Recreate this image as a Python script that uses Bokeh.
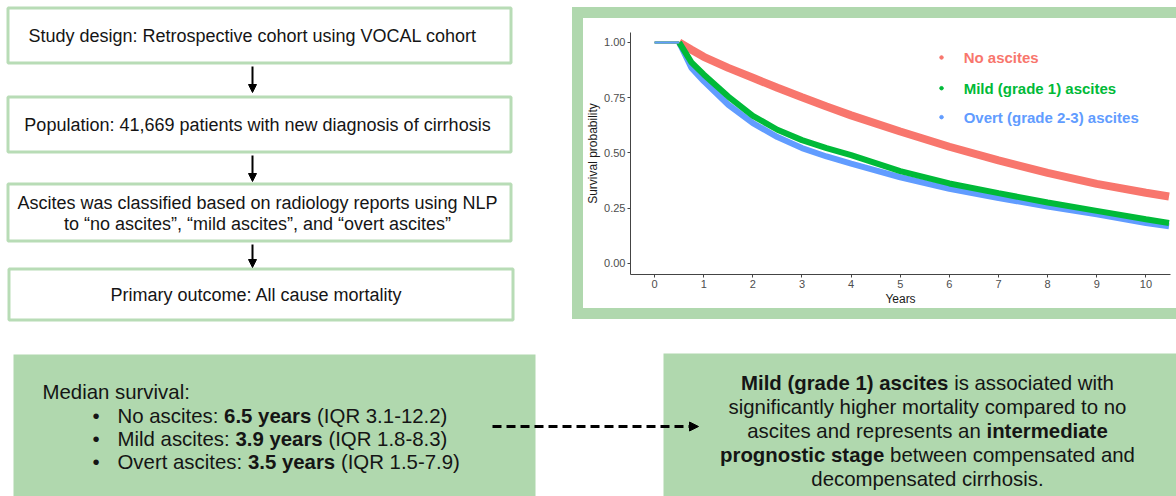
from bokeh.plotting import figure
from bokeh.models import Range1d, Arrow, NormalHead, FixedTicker, Spacer
from bokeh.layouts import row, column
from bokeh.embed import file_html
from bokeh.resources import INLINE
from bokeh.core.properties import value

# ---------------- data ----------------
years = [0, 0.5, 0.75, 1, 1.5, 2, 2.5, 3, 3.5, 4, 5, 6, 7, 8, 9, 10, 10.47]
surv_none = [1, 1, 0.967, 0.935, 0.885, 0.84, 0.795, 0.752, 0.71, 0.67, 0.597, 0.528, 0.466, 0.41, 0.36, 0.32, 0.303]
surv_mild = [1, 1, 0.91, 0.855, 0.755, 0.668, 0.605, 0.558, 0.522, 0.49, 0.418, 0.362, 0.318, 0.276, 0.238, 0.2, 0.183]
surv_overt = [1, 1, 0.885, 0.825, 0.718, 0.635, 0.572, 0.522, 0.484, 0.452, 0.39, 0.338, 0.296, 0.258, 0.222, 0.183, 0.168]
series_names = ["No ascites", "Mild (grade 1) ascites", "Overt (grade 2-3) ascites"]
series_colors = ["#F8766D", "#00BA38", "#619CFF"]
x_ticks = list(range(11))
y_ticks = [0, 0.25, 0.5, 0.75, 1.0]
y_tick_labels = ["0.00", "0.25", "0.50", "0.75", "1.00"]

flow_steps = [
    ["Study design: Retrospective cohort using VOCAL cohort"],
    ["Population: 41,669 patients with new diagnosis of cirrhosis"],
    ["Ascites was classified based on radiology reports using NLP",
     "to \u201cno ascites\u201d, \u201cmild ascites\u201d, and \u201covert ascites\u201d"],
    ["Primary outcome: All cause mortality"],
]

median_title = "Median survival:"
median_groups = ["No ascites", "Mild ascites", "Overt ascites"]
median_years = ["6.5", "3.9", "3.5"]
median_iqr = ["3.1-12.2", "1.8-8.3", "1.5-7.9"]

conclusion_lines = [
    [("Mild (grade 1) ascites", True), (" is associated with", False)],
    [("significantly higher mortality compared to no", False)],
    [("ascites and represents an ", False), ("intermediate", True)],
    [("prognostic stage", True), (" between compensated and", False)],
    [("decompensated cirrhosis.", False)],
]

# ---------------- styling helpers ----------------
FONT = "Liberation Sans"
GREEN = "#b0d8ae"
BOX_LINE = "#b8dcb6"
TXT = "#151515"
BIG = 20.4

REG = dict(zip("abcdefghijklmnopqrstuvwxyz",
               [556, 556, 500, 556, 556, 278, 556, 556, 222, 222, 500, 222, 833, 556, 556, 556, 556, 333, 500, 278, 556, 500, 722, 500, 500, 500]))
BLD = dict(zip("abcdefghijklmnopqrstuvwxyz",
               [556, 611, 556, 611, 556, 333, 611, 611, 278, 278, 556, 278, 889, 611, 611, 611, 611, 389, 556, 333, 611, 556, 778, 556, 556, 500]))
UPR = dict(zip("ABCDEFGHIJKLMNOPQRSTUVWXYZ",
               [667, 667, 722, 722, 667, 611, 778, 722, 278, 500, 667, 556, 833, 722, 778, 667, 778, 722, 667, 611, 722, 667, 944, 667, 667, 611]))
UPB = dict(zip("ABCDEFGHIJKLMNOPQRSTUVWXYZ",
               [722, 722, 722, 722, 667, 611, 778, 722, 278, 556, 722, 611, 833, 722, 778, 667, 778, 722, 667, 611, 722, 667, 944, 667, 667, 611]))
PUN_R = {" ": 278, "(": 333, ")": 333, "-": 333, ".": 278, ",": 278, ":": 278}
PUN_B = {" ": 278, "(": 333, ")": 333, "-": 333, ".": 278, ",": 278, ":": 333}


def text_width(s, bold, size):
    w = 0
    for ch in s:
        if ch.isdigit():
            w += 556
        elif ch in (BLD if bold else REG):
            w += (BLD if bold else REG)[ch]
        elif ch in (UPB if bold else UPR):
            w += (UPB if bold else UPR)[ch]
        else:
            w += (PUN_B if bold else PUN_R).get(ch, 556)
    return w * size / 1000.0


def draw_rich(p, x, y, segments, size, align="center"):
    widths = [text_width(s, b, size) for s, b in segments]
    start = x - sum(widths) / 2.0 if align == "center" else x
    cur = start
    for (s, b), w in zip(segments, widths):
        lead = len(s) - len(s.lstrip(" "))
        off = text_width(" " * lead, b, size)
        p.text(x=[cur + off], y=[y], text=[s.strip(" ")], text_font=value(FONT), text_font_size=f"{size}px",
               text_font_style="bold" if b else "normal", text_color=TXT,
               text_align="left", text_baseline="middle")
        cur += w


def blank(width, height, xr, yr):
    p = figure(width=width, height=height, x_range=Range1d(*xr), y_range=Range1d(*yr),
               x_axis_type=None, y_axis_type=None, toolbar_location=None, output_backend="svg",
               min_border=0, outline_line_color=None)
    p.grid.visible = False
    return p


# ---------------- flow chart ----------------
flow = blank(572, 344, (0, 572), (344, 0))
box_top = [7.5, 96.5, 183.5, 268.5]
box_bot = [62.5, 151.5, 240.5, 319.5]
box_left = [7.5, 7.5, 7.5, 8.5]
box_right = [510.5, 510.5, 510.5, 512.5]
flow.quad(left=box_left, right=box_right, top=box_top, bottom=box_bot,
          fill_color="white", line_color=BOX_LINE, line_width=3)
text_y = [[35], [124], [202, 223], [294]]
text_x = [252, 257, 257, 256]
for lines, ys, xc in zip(flow_steps, text_y, text_x):
    for ln, yy in zip(lines, ys):
        flow.text(x=[xc], y=[yy], text=[ln], text_font=value(FONT), text_font_size="18px",
                  text_color=TXT, text_align="center", text_baseline="middle")
for y0, y1 in [(66, 92), (155, 181), (244, 267)]:
    flow.add_layout(Arrow(x_start=252, y_start=y0, x_end=252, y_end=y1, line_width=2, line_color="black",
                          end=NormalHead(size=8, fill_color="black", line_color="black", line_width=1)))

# ---------------- KM plot ----------------
km = figure(width=593, height=290, x_range=Range1d(-0.49, 10.5), y_range=Range1d(-0.05, 1.045),
            toolbar_location=None, output_backend="svg", outline_line_color=None,
            min_border=0, min_border_left=45, min_border_right=6, min_border_top=14, min_border_bottom=33)
km.grid.visible = False
for ax in (km.xaxis[0], km.yaxis[0]):
    ax.axis_line_color = "#444444"
    ax.major_tick_line_color = "#444444"
    ax.major_tick_out = 3
    ax.major_tick_in = 0
    ax.minor_tick_line_color = None
    ax.major_label_text_font = FONT
    ax.major_label_text_font_size = "11px"
    ax.major_label_text_color = "#4d4d4d"
    ax.major_label_standoff = 2
    ax.axis_label_text_font = FONT
    ax.axis_label_text_font_size = "12px"
    ax.axis_label_text_font_style = "normal"
    ax.axis_label_text_color = "#1a1a1a"
    ax.axis_label_standoff = 1
km.xaxis.ticker = FixedTicker(ticks=x_ticks)
km.yaxis.ticker = FixedTicker(ticks=y_ticks)
km.yaxis.major_label_overrides = {t: l for t, l in zip(y_ticks, y_tick_labels)}
km.xaxis.axis_label = "Years"
km.yaxis.axis_label = "Survival probability"

curves = [surv_none, surv_mild, surv_overt]
widths = [8, 6, 6]
order = [0, 2, 1]
for i in order:
    km.line(years[1:], curves[i][1:], line_color=series_colors[i], line_width=widths[i])
for i in [0, 1, 2]:
    km.line(years[:2], curves[i][:2], line_color=series_colors[i], line_width=2)

leg_y = [0.932, 0.793, 0.662]
km.scatter(x=[5.84] * 3, y=leg_y, size=3.5, color=series_colors)
for name, col, yy in zip(series_names, series_colors, leg_y):
    km.text(x=[6.29], y=[yy], text=[name], text_font=value(FONT), text_font_size="15px",
            text_font_style="bold", text_color=col, text_align="left", text_baseline="middle")

right = column(
    Spacer(width=604, height=7),
    Spacer(width=604, height=11, styles={"background-color": GREEN}),
    row(Spacer(width=11, height=290, styles={"background-color": GREEN}), km),
    Spacer(width=604, height=11, styles={"background-color": GREEN}),
    Spacer(width=604, height=25),
)

# ---------------- bottom row ----------------
bot = blank(1176, 152, (0, 1176), (496, 344))
bot.quad(left=[13, 663], right=[535, 1190], top=[354, 353], bottom=[510, 510],
         fill_color=GREEN, line_color=None)
bot.text(x=[42], y=[391], text=[median_title], text_font=value(FONT), text_font_size=f"{BIG}px",
         text_color=TXT, text_align="left", text_baseline="middle")
med_y = [415, 438, 461]
for g, yv, iqr, yy in zip(median_groups, median_years, median_iqr, med_y):
    bot.text(x=[92], y=[yy], text=["\u2022"], text_font=value(FONT), text_font_size=f"{BIG}px",
             text_color=TXT, text_align="left", text_baseline="middle")
    draw_rich(bot, 117, yy, [(g + ": ", False), (yv + " years", True), (" (IQR " + iqr + ")", False)], BIG, align="left")

bot.add_layout(Arrow(x_start=492, y_start=426, x_end=698, y_end=426, line_width=3, line_color="black",
                     line_dash="9 5",
                     end=NormalHead(size=9, fill_color="black", line_color="black", line_width=1)))

conc_y = [382, 406, 430, 454, 478]
for segs, yy in zip(conclusion_lines, conc_y):
    draw_rich(bot, 927, yy, segs, BIG, align="center")

layout = column(row(flow, right), bot)
open("out.html", "w").write(file_html(layout, INLINE))
